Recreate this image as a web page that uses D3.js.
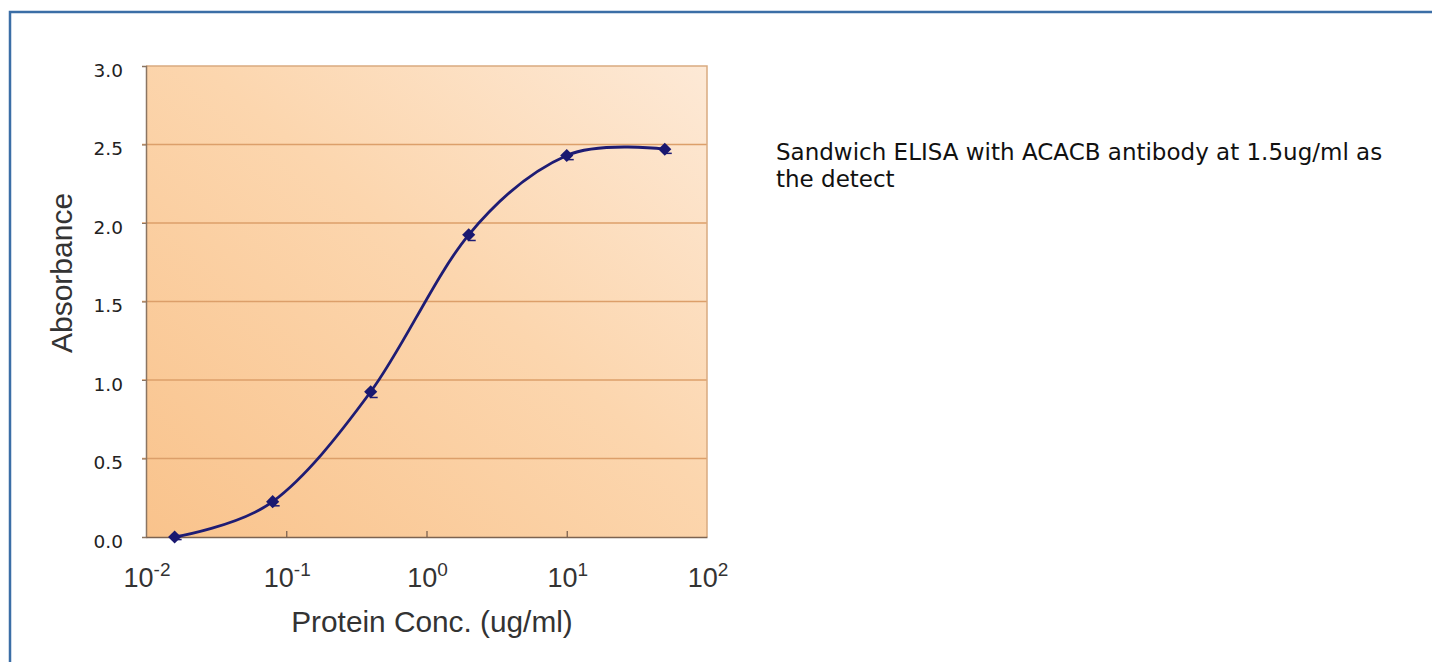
<!DOCTYPE html>
<html>
<head>
<meta charset="utf-8">
<script src="https://cdn.jsdelivr.net/npm/d3@7"></script>
<style>
  body { margin: 0; background: #fff; overflow: hidden; }
</style>
</head>
<body>
<script>
// ELISA standard curve
var conc = [0.016, 0.08, 0.4, 2, 10, 50];          // ug/ml
var absorbance = [0.0, 0.225, 0.925, 1.925, 2.43, 2.47];
var errors = [0.01, 0.02, 0.03, 0.03, 0.02, 0.02];
var yTicks = [0, 0.5, 1.0, 1.5, 2.0, 2.5, 3.0];
var xDecades = [-2, -1, 0, 1, 2];
var note = ["Sandwich ELISA with ACACB antibody at 1.5ug/ml as", "the detect"];

var w = 1432, h = 662;
var plotL = 146, plotR = 707, plotT = 66, plotB = 537;

var svg = d3.select("body").append("svg")
    .attr("width", w)
    .attr("height", h);

// blue page frame
svg.append("rect")
    .attr("x", 10).attr("y", 12)
    .attr("width", w + 20).attr("height", h + 20)
    .attr("fill", "none")
    .attr("stroke", "#3b6ea6")
    .attr("stroke-width", 2.5);

var x = d3.scaleLog().domain([0.01, 100]).range([plotL, plotR]);
var y = d3.scaleLinear().domain([0, 3]).range([plotB, plotT]);

// plot background gradient
var grad = svg.append("defs").append("linearGradient")
    .attr("id", "bg")
    .attr("x1", 0).attr("y1", 1).attr("x2", 1).attr("y2", 0);
grad.append("stop").attr("offset", "0%").attr("stop-color", "#f9c38c");
grad.append("stop").attr("offset", "55%").attr("stop-color", "#fcd6ae");
grad.append("stop").attr("offset", "100%").attr("stop-color", "#fde9d6");

svg.append("rect")
    .attr("x", plotL).attr("y", plotT)
    .attr("width", plotR - plotL).attr("height", plotB - plotT)
    .attr("fill", "url(#bg)");

// horizontal grid lines
svg.append("g").selectAll("line")
    .data(yTicks.filter(function (d) { return d > 0 && d < 3; }))
    .enter().append("line")
    .attr("x1", plotL - 4).attr("x2", plotR)
    .attr("y1", function (d) { return y(d); })
    .attr("y2", function (d) { return y(d); })
    .attr("stroke", "#dc9f6a")
    .attr("stroke-width", 1.3);

// top and right border
svg.append("path")
    .attr("d", "M" + plotL + "," + plotT + "H" + plotR + "V" + plotB)
    .attr("fill", "none")
    .attr("stroke", "#d9aa80")
    .attr("stroke-width", 1.5);

// y axis
var yAxis = svg.append("g")
    .attr("transform", "translate(" + plotL + ",0)")
    .call(d3.axisLeft(y).tickValues(yTicks).tickSize(4).tickFormat(d3.format(".1f")));
yAxis.select(".domain").attr("stroke", "#8b7562").attr("stroke-width", 1.5);
yAxis.selectAll(".tick line").attr("stroke", "#8b7562");
yAxis.selectAll(".tick text")
    .attr("x", -23)
    .attr("dy", "0.55em")
    .attr("fill", "#222")
    .style("font-family", "DejaVu Sans")
    .style("font-size", "18.5px");

// x axis line with inward ticks
var xAxis = svg.append("g")
    .attr("transform", "translate(0," + plotB + ")")
    .call(d3.axisBottom(x)
        .tickValues(xDecades.slice(1, -1).map(function (e) { return Math.pow(10, e); }))
        .tickSize(-6).tickSizeOuter(0).tickFormat(""));
xAxis.select(".domain").attr("stroke", "#7d6350").attr("stroke-width", 1.6);
xAxis.selectAll(".tick line").attr("stroke", "#7d6350").attr("stroke-width", 1.3);

// x tick labels as powers of ten
var xl = svg.append("g").selectAll("text")
    .data(xDecades)
    .enter().append("text")
    .attr("x", function (d) { return x(Math.pow(10, d)) + 1; })
    .attr("y", 587)
    .attr("text-anchor", "middle")
    .attr("fill", "#333")
    .style("font-family", "Liberation Sans, Arial, sans-serif")
    .style("font-size", "27px");
xl.append("tspan").text("10");
xl.append("tspan")
    .attr("dy", -11)
    .style("font-size", "19px")
    .text(function (d) { return d; });

// axis titles
svg.append("text")
    .attr("x", 432).attr("y", 632)
    .attr("text-anchor", "middle")
    .attr("fill", "#333")
    .style("font-family", "Liberation Sans, Arial, sans-serif")
    .style("font-size", "29.8px")
    .text("Protein Conc. (ug/ml)");

svg.append("text")
    .attr("transform", "translate(72,273) rotate(-90)")
    .attr("text-anchor", "middle")
    .attr("fill", "#333")
    .style("font-family", "Liberation Sans, Arial, sans-serif")
    .style("font-size", "30px")
    .text("Absorbance");

// data
var pts = conc.map(function (c, i) { return { c: c, a: absorbance[i], e: errors[i] }; });

var line = d3.line()
    .x(function (d) { return x(d.c); })
    .y(function (d) { return y(d.a); })
    .curve(d3.curveCardinal.tension(0));

svg.append("path")
    .datum(pts)
    .attr("d", line)
    .attr("fill", "none")
    .attr("stroke", "#1e1c74")
    .attr("stroke-width", 2.8);

// little error bars
var eb = svg.append("g").attr("stroke", "#1e1c74").attr("stroke-width", 1.5);
eb.selectAll("line.v")
    .data(pts).enter().append("line")
    .attr("x1", function (d) { return x(d.c); })
    .attr("x2", function (d) { return x(d.c); })
    .attr("y1", function (d) { return y(d.a - d.e); })
    .attr("y2", function (d) { return y(d.a + d.e); });
eb.selectAll("line.c")
    .data(pts).enter().append("line")
    .attr("x1", function (d) { return x(d.c) - 1; })
    .attr("x2", function (d) { return x(d.c) + 7; })
    .attr("y1", function (d) { return y(d.a - d.e) + 1; })
    .attr("y2", function (d) { return y(d.a - d.e) + 1; });

// diamond markers
svg.append("g").selectAll("path")
    .data(pts).enter().append("path")
    .attr("transform", function (d) { return "translate(" + x(d.c) + "," + y(d.a) + ")"; })
    .attr("d", d3.symbol().type(d3.symbolDiamond2).size(110))
    .attr("fill", "#1a1870");

// note on the right
var t = svg.append("text")
    .attr("x", 776).attr("y", 160)
    .attr("fill", "#111")
    .style("font-family", "DejaVu Sans")
    .style("font-size", "23px");
t.selectAll("tspan")
    .data(note).enter().append("tspan")
    .attr("x", 776)
    .attr("dy", function (d, i) { return i ? 27 : 0; })
    .text(function (d) { return d; });
</script>
</body>
</html>
